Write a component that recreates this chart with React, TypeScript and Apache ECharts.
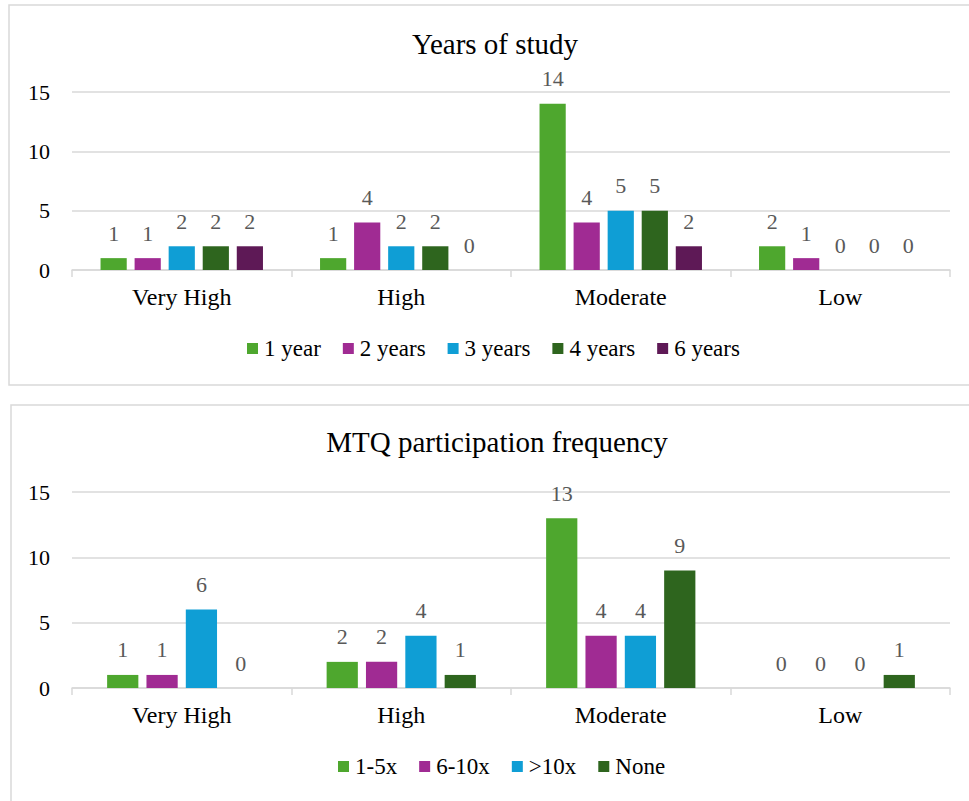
import React, { useEffect, useRef } from "react";
import * as echarts from "echarts";

// Shared categories
const levels = ["Very High", "High", "Moderate", "Low"];

// Years of study
const yearTitle = "Years of study";
const yearNames = ["1 year", "2 years", "3 years", "4 years", "6 years"];
const year1 = [1, 1, 14, 2];
const year2 = [1, 4, 4, 1];
const year3 = [2, 2, 5, 0];
const year4 = [2, 2, 5, 0];
const year6 = [2, 0, 2, 0];
const yearColors = ["#4EA72E", "#A02B93", "#0F9ED5", "#2E651E", "#5E1956"];

// MTQ participation frequency
const freqTitle = "MTQ participation frequency";
const freqNames = ["1-5x", "6-10x", ">10x", "None"];
const freq1to5 = [1, 2, 13, 0];
const freq6to10 = [1, 2, 4, 0];
const freqOver10 = [6, 4, 4, 0];
const freqNone = [0, 1, 9, 1];
const freqColors = ["#4EA72E", "#A02B93", "#0F9ED5", "#2E651E"];

const yTicks = { min: 0, max: 15, interval: 5 };

const FONT = "Liberation Serif";

export default function App() {
  const ref = useRef<HTMLDivElement>(null);

  useEffect(() => {
    if (!ref.current) return;
    const chart = echarts.init(ref.current, undefined, { renderer: "svg" });

    const labelStyle = {
      show: true,
      position: "top" as const,
      distance: 14,
      color: "#595959",
      fontSize: 22,
      fontFamily: FONT,
    };

    const makeX = (gridIndex: number) => ({
      type: "category" as const,
      gridIndex,
      data: levels,
      axisLine: { lineStyle: { color: "#d9d9d9", width: 1.5 } },
      axisTick: { show: true, length: 7, lineStyle: { color: "#d9d9d9", width: 1.5 } },
      axisLabel: { color: "#000", fontSize: 24, fontFamily: FONT, margin: 15 },
    });
    const makeY = (gridIndex: number) => ({
      type: "value" as const,
      gridIndex,
      ...yTicks,
      axisLine: { show: false },
      axisTick: { show: false },
      axisLabel: { color: "#000", fontSize: 22, fontFamily: FONT, margin: 22 },
      splitLine: { lineStyle: { color: "#d9d9d9", width: 1.5 } },
    });

    const yearData = [year1, year2, year3, year4, year6];
    const freqData = [freq1to5, freq6to10, freqOver10, freqNone];

    const yearSeries = yearNames.map((name, i) => ({
      name,
      type: "bar" as const,
      xAxisIndex: 0,
      yAxisIndex: 0,
      data: yearData[i],
      barGap: "30%",
      barCategoryGap: "26%",
      itemStyle: { color: yearColors[i] },
      label: labelStyle,
    }));
    const freqSeries = freqNames.map((name, i) => ({
      name,
      type: "bar" as const,
      xAxisIndex: 1,
      yAxisIndex: 1,
      data: freqData[i],
      barGap: "26%",
      barCategoryGap: "32%",
      itemStyle: { color: freqColors[i] },
      label: labelStyle,
    }));

    const legendText = { color: "#000", fontSize: 23, fontFamily: FONT, padding: [0, 0, 0, 1] };
    const titleStyle = {
      fill: "#000",
      fontSize: 29,
      fontFamily: FONT,
      textAlign: "center",
      textVerticalAlign: "middle",
    };

    chart.setOption({
      animation: false,
      backgroundColor: "#fff",
      textStyle: { fontFamily: FONT },
      graphic: [
        {
          type: "rect",
          shape: { x: 9, y: 5, width: 980, height: 380 },
          style: { fill: "none", stroke: "#d9d9d9", lineWidth: 1.5 },
          silent: true,
        },
        {
          type: "rect",
          shape: { x: 11, y: 405, width: 980, height: 420 },
          style: { fill: "none", stroke: "#d9d9d9", lineWidth: 1.5 },
          silent: true,
        },
        {
          type: "text",
          x: 495,
          y: 44,
          style: { text: yearTitle, ...titleStyle },
          silent: true,
        },
        {
          type: "text",
          x: 497,
          y: 442,
          style: { text: freqTitle, ...titleStyle },
          silent: true,
        },
      ],
      legend: [
        {
          data: yearNames,
          top: 332,
          left: 242,
          itemWidth: 11,
          itemHeight: 11,
          itemGap: 22,
          icon: "rect",
          textStyle: legendText,
        },
        {
          data: freqNames,
          top: 750,
          left: 333,
          itemWidth: 11,
          itemHeight: 11,
          itemGap: 22,
          icon: "rect",
          textStyle: legendText,
        },
      ],
      grid: [
        { left: 72, right: 19, top: 92, height: 178 },
        { left: 72, right: 19, top: 492, height: 196 },
      ],
      xAxis: [makeX(0), makeX(1)],
      yAxis: [makeY(0), makeY(1)],
      series: [...yearSeries, ...freqSeries],
    });

    return () => chart.dispose();
  }, []);

  return (
    <div
      ref={ref}
      style={{ position: "fixed", left: 0, top: 0, width: 969, height: 801, background: "#fff" }}
    />
  );
}
